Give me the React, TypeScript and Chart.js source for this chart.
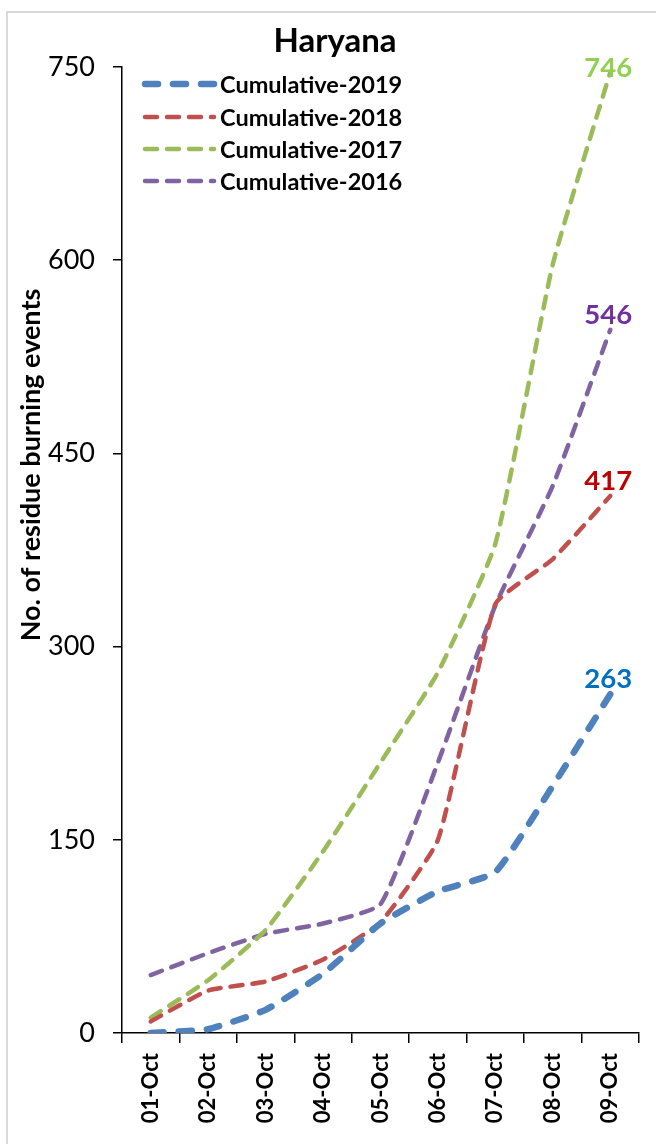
import React, { useEffect, useRef } from "react";
import { Chart, registerables } from "chart.js";

Chart.register(...registerables);

const categories = ["01-Oct", "02-Oct", "03-Oct", "04-Oct", "05-Oct", "06-Oct", "07-Oct", "08-Oct", "09-Oct"];
const cum2019 = [0, 3, 18, 46, 85, 110, 125, 192, 263];
const cum2018 = [9, 33, 40, 57, 86, 150, 333, 368, 417];
const cum2017 = [12, 41, 80, 141, 210, 280, 380, 597, 746];
const cum2016 = [45, 62, 77, 85, 100, 210, 332, 425, 546];
const seriesNames = ["Cumulative-2019", "Cumulative-2018", "Cumulative-2017", "Cumulative-2016"];
const labelColors = ["#0070C0", "#C00000", "#92D050", "#7030A0"];
const yTicks = [0, 150, 300, 450, 600, 750];
const chartTitle = "Haryana";
const yTitle = "No. of residue burning events";

const FONT = "Lato, 'Open Sans', sans-serif";

const decorPlugin = {
  id: "decor",
  beforeDraw(chart: any) {
    const ctx = chart.ctx;
    ctx.save();
    ctx.fillStyle = "#ffffff";
    ctx.fillRect(0, 0, chart.width, chart.height);
    ctx.strokeStyle = "#d9d9d9";
    ctx.lineWidth = 2;
    ctx.strokeRect(7, 12, 800, 1400);
    ctx.restore();
  },
  afterDraw(chart: any) {
    const ctx = chart.ctx;
    ctx.save();
    // title
    ctx.fillStyle = "#000";
    ctx.font = `bold 33px ${FONT}`;
    ctx.textAlign = "center";
    ctx.textBaseline = "middle";
    ctx.fillText(chartTitle, 335, 41);
    // y axis title
    ctx.save();
    ctx.translate(31, 465);
    ctx.rotate(-Math.PI / 2);
    ctx.font = `bold 27px ${FONT}`;
    ctx.textAlign = "center";
    ctx.textBaseline = "middle";
    ctx.fillText(yTitle, 0, 0);
    ctx.restore();
    // legend
    const rows = [84, 117, 149, 181];
    chart.data.datasets.forEach((ds: any, i: number) => {
      const y = rows[i];
      ctx.save();
      ctx.strokeStyle = ds.borderColor;
      ctx.lineWidth = ds.borderWidth;
      ctx.lineCap = "round";
      ctx.setLineDash(ds.borderDash);
      ctx.beginPath();
      ctx.moveTo(145, y);
      ctx.lineTo(214, y);
      ctx.stroke();
      ctx.restore();
      ctx.fillStyle = "#000";
      ctx.font = `bold 23.5px ${FONT}`;
      ctx.textAlign = "left";
      ctx.textBaseline = "middle";
      ctx.fillText(ds.label, 220, y + 1);
    });
    // data labels at last point
    chart.data.datasets.forEach((ds: any, i: number) => {
      const meta = chart.getDatasetMeta(i);
      const pt = meta.data[meta.data.length - 1];
      const v = ds.data[ds.data.length - 1];
      ctx.fillStyle = labelColors[i];
      ctx.font = `bold 27.5px ${FONT}`;
      ctx.textAlign = "center";
      ctx.textBaseline = "middle";
      const y = Math.max(pt.y - 15, chart.chartArea.top + 1);
      ctx.fillText(String(v), pt.x - 2, y);
    });
    ctx.restore();
  },
};

export default function App() {
  const ref = useRef<HTMLCanvasElement | null>(null);
  useEffect(() => {
    if (!ref.current) return;
    const mk = (label: string, data: number[], color: string, width: number, dash: number[]) => ({
      label,
      data,
      borderColor: color,
      backgroundColor: color,
      borderWidth: width,
      borderDash: dash,
      borderCapStyle: "round" as const,
      pointRadius: 0,
      tension: 0.15,
      fill: false,
    });
    const chart = new Chart(ref.current, {
      type: "line",
      data: {
        labels: categories,
        datasets: [
          mk(seriesNames[0], cum2019, "#4F81BD", 6.5, [13, 15]),
          mk(seriesNames[1], cum2018, "#C0504D", 4.5, [12, 10]),
          mk(seriesNames[2], cum2017, "#9BBB59", 4.5, [12, 10]),
          mk(seriesNames[3], cum2016, "#8064A2", 4.5, [12, 10]),
        ],
      },
      options: {
        animation: false,
        responsive: false,
        devicePixelRatio: 1,
        layout: { padding: { top: 67, right: 17, left: 0, bottom: 0 } },
        plugins: {
          legend: { display: false },
          title: { display: false },
          tooltip: { enabled: false },
        },
        scales: {
          x: {
            type: "category",
            offset: true,
            grid: {
              offset: true,
              drawOnChartArea: false,
              color: "#000",
              lineWidth: 1.5,
              tickLength: 10,
            },
            border: { color: "#000", width: 1.5 },
            ticks: {
              maxRotation: 90,
              minRotation: 90,
              color: "#000",
              padding: 10,
              font: { family: FONT, size: 22, weight: "bold" },
            },
            afterFit: (s: any) => {
              s.height = 111;
            },
          },
          y: {
            min: 0,
            max: 750,
            afterBuildTicks: (s: any) => {
              s.ticks = yTicks.map((v) => ({ value: v }));
            },
            grid: {
              drawOnChartArea: false,
              color: "#000",
              lineWidth: 1.5,
              tickLength: 9,
            },
            border: { color: "#000", width: 1.5 },
            ticks: {
              color: "#000",
              padding: 18,
              font: { family: FONT, size: 27 },
            },
            afterFit: (s: any) => {
              s.width = 122;
            },
          },
        },
      },
      plugins: [decorPlugin],
    } as any);
    return () => chart.destroy();
  }, []);
  return (
    <div style={{ position: "absolute", left: 0, top: 0, width: 656, height: 1144, background: "#fff" }}>
      <canvas ref={ref} width={656} height={1144} style={{ width: 656, height: 1144, display: "block" }} />
    </div>
  );
}
